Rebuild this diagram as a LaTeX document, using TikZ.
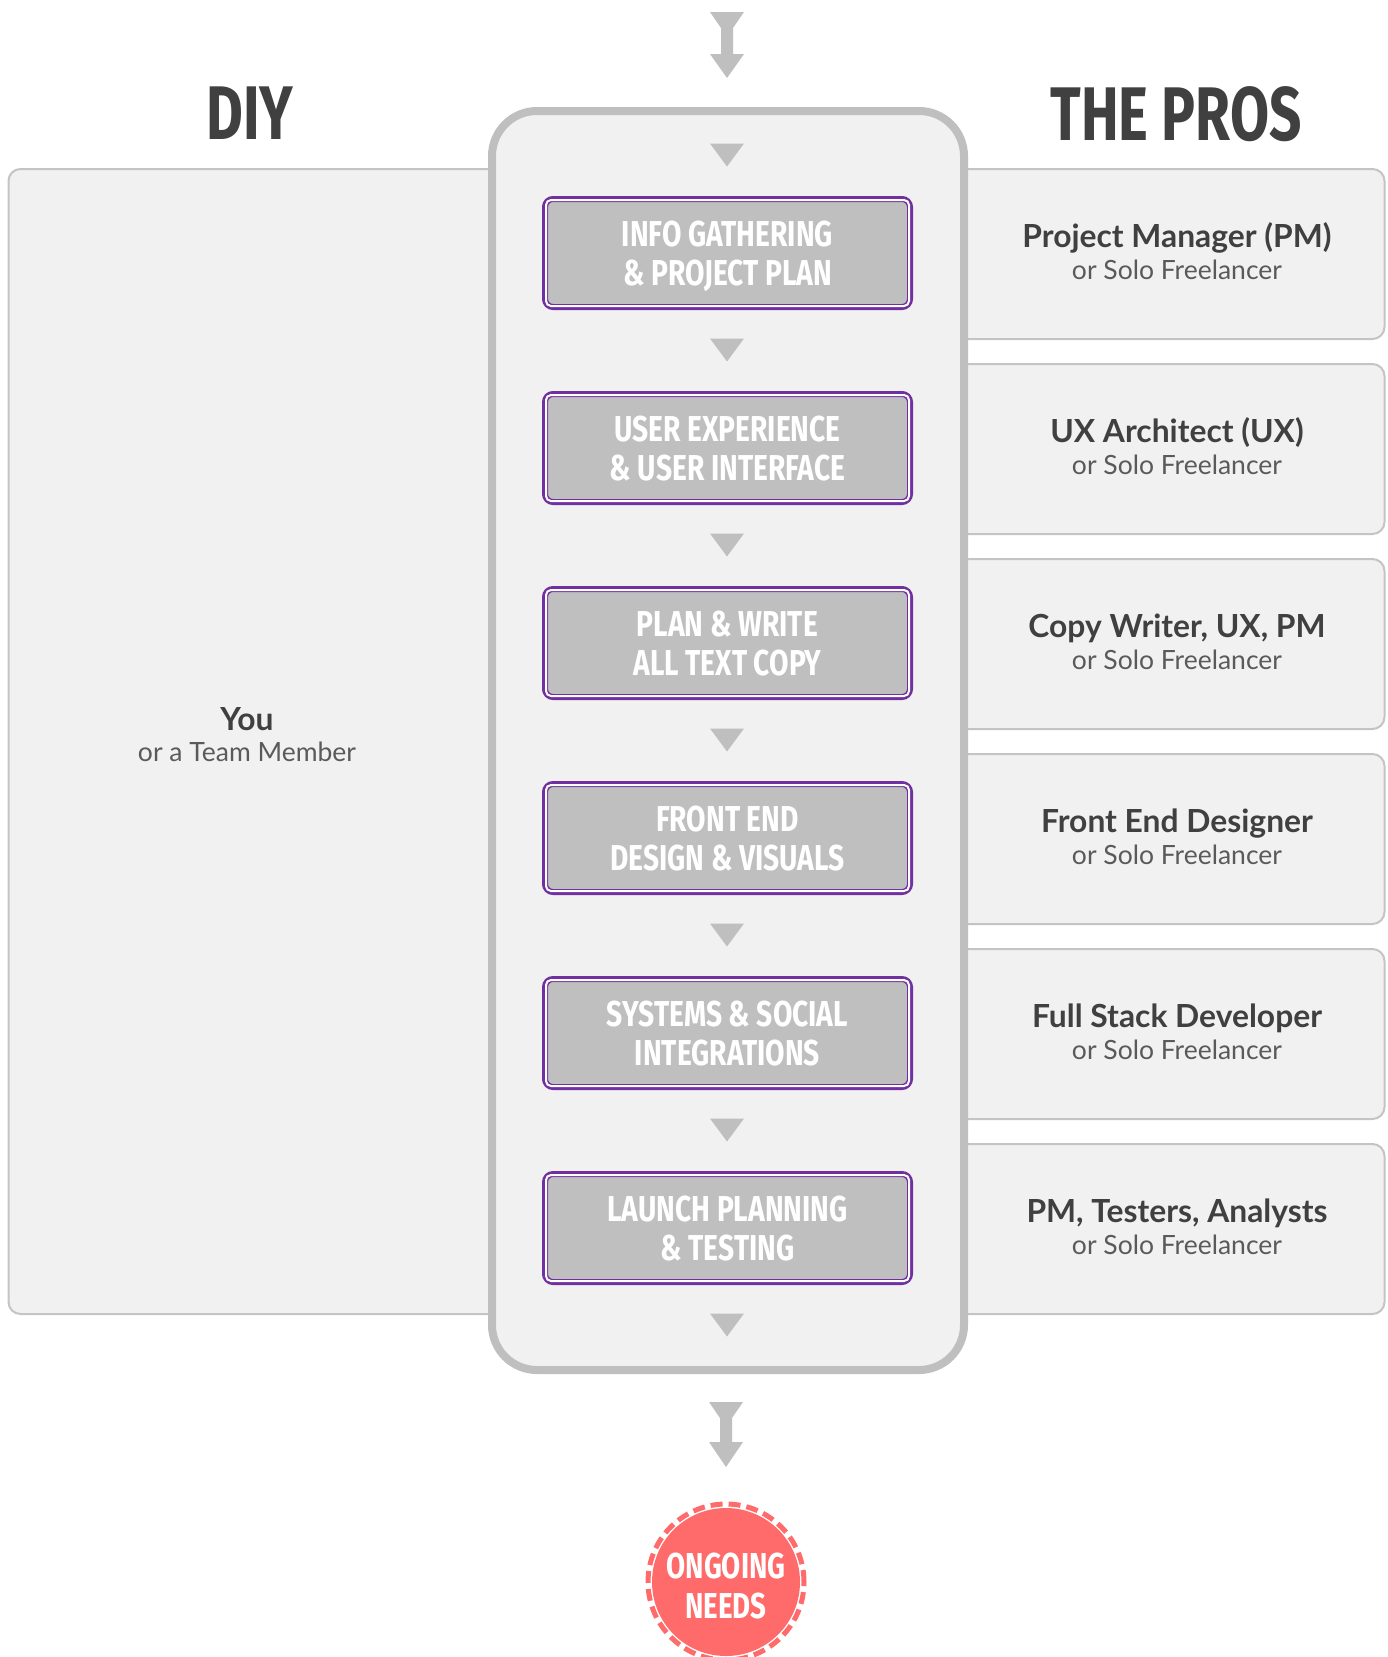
\documentclass[tikz,border=0pt]{standalone}
\usepackage{fontspec}
\setmainfont{Lato}
\newfontfamily\oswf{Fira Sans}
\usepackage{graphicx}
\definecolor{arrowgray}{HTML}{BFBFBF}
\definecolor{panelfill}{HTML}{F1F1F1}
\definecolor{boxline}{HTML}{C4C4C4}
\definecolor{stepfill}{HTML}{BFBFBF}
\definecolor{steppurple}{HTML}{7030A0}
\definecolor{headtext}{HTML}{404040}
\definecolor{subtext}{HTML}{5A5A5A}
\definecolor{ongoing}{HTML}{FF6B6B}
\newcommand\cnd[1]{\raisebox{0pt}[25pt][0pt]{\scalebox{0.783}[1]{#1}}}
\newcommand\cnc[1]{\raisebox{0pt}[33pt][0pt]{\scalebox{0.77}[1]{#1}}}
\newcommand\cne[1]{\raisebox{0pt}[25pt][0pt]{\scalebox{0.77}[1]{#1}}}
\newcommand\cnh[1]{\scalebox{0.745}[1]{#1}}
\begin{document}
\begin{tikzpicture}[x=1pt,y=-1pt,
  sidebox/.style={draw=boxline, line width=2pt, fill=panelfill, rounded corners=12pt, inner sep=0pt},
  panelbox/.style={draw=arrowgray, line width=8pt, fill=panelfill, rounded corners=45pt, inner sep=0pt},
  stepbox/.style={draw=steppurple, line width=6pt, fill=stepfill, rounded corners=8pt, inner sep=0pt,
    minimum width=365pt, minimum height=108pt, text=white, align=center,
    font=\oswf\bfseries\fontsize{36}{39}\selectfont},
  header/.style={anchor=base, text=headtext, inner sep=0pt, font=\oswf\bfseries\fontsize{76}{80}\selectfont},
  titletext/.style={anchor=base, text=headtext, inner sep=0pt, font=\bfseries\fontsize{31.8}{36}\selectfont},
  subtitletext/.style={anchor=base, text=subtext, inner sep=0pt, font=\fontsize{26.5}{30}\selectfont},
  flowtri/.style={fill=arrowgray},
]
\useasboundingbox (0,0) rectangle (1388,1657);
\fill[white] (0,0) rectangle (1388,1657);

% headers
\node[header] (hdiy) at (250,139.5) {\cnh{DIY}};
\node[header] (hpros) at (1176,140) {\cnh{THE PROS}};

% top arrow
\fill[arrowgray] (710,12) -- (744,12) -- (733,28) -- (733,54) -- (744,54) -- (727,78)
  -- (710,54) -- (721,54) -- (721,28) -- cycle;

% DIY box
\node[sidebox, anchor=north west, minimum width=700pt, minimum height=1145pt] (diy) at (7.5,168) {};
\node[titletext] (you) at (247,730.7) {You};
\node[subtitletext] (youteam) at (247,761.7) {or a Team Member};

% pro boxes
\foreach \i/\t in {0/Project Manager (PM),1/UX Architect (UX),2/{Copy Writer, UX, PM},3/Front End Designer,4/Full Stack Developer,5/{PM, Testers, Analysts}}{
  \node[sidebox, anchor=north east, minimum width=600pt, minimum height=170pt] (pro\i) at (1385.5,168+195*\i) {};
  \node[titletext] (prot\i) at (1177,247.5+195*\i) {\t};
  \node[subtitletext] (pros\i) at (1177,279.5+195*\i) {or Solo Freelancer};
}

% central panel
\node[panelbox, minimum width=472pt, minimum height=1259pt] (panel) at (728,740.5) {};

% steps
\foreach \i/\a/\b in {0/INFO GATHERING/\& PROJECT PLAN,1/USER EXPERIENCE/\& USER INTERFACE,2/PLAN \& WRITE/ALL TEXT COPY,3/FRONT END/DESIGN \& VISUALS,4/SYSTEMS \& SOCIAL/INTEGRATIONS,5/LAUNCH PLANNING/\& TESTING}{
  \node[stepbox] (step\i) at (727.5,253+195*\i) {\cnd{\a}\\\cnd{\b}};
  \draw[white, line width=2pt, rounded corners=5pt] ([shift={(4,4)}]step\i.north west) rectangle ([shift={(-4,-4)}]step\i.south east);
}

% flow triangles
\foreach \i in {0,...,6}{
  \fill[flowtri] (710,143.5+195*\i) -- (744,143.5+195*\i) -- (727,166.5+195*\i) -- cycle;
}

% bottom arrow
\fill[arrowgray] (709,1402) -- (743,1402) -- (732,1418) -- (732,1442) -- (743,1442) -- (726,1467)
  -- (709,1442) -- (720,1442) -- (720,1418) -- cycle;

% ongoing needs
\node[circle, fill=ongoing, minimum size=148pt, inner sep=0pt, text=white, align=center,
  font=\oswf\bfseries\fontsize{36}{40}\selectfont] (ongoing) at (726,1582) {\cnc{ONGOING}\\\cne{NEEDS}};
\draw[ongoing, line width=5pt, dash pattern=on 12pt off 6pt] (ongoing.center) circle[radius=78pt];
\end{tikzpicture}
\end{document}
